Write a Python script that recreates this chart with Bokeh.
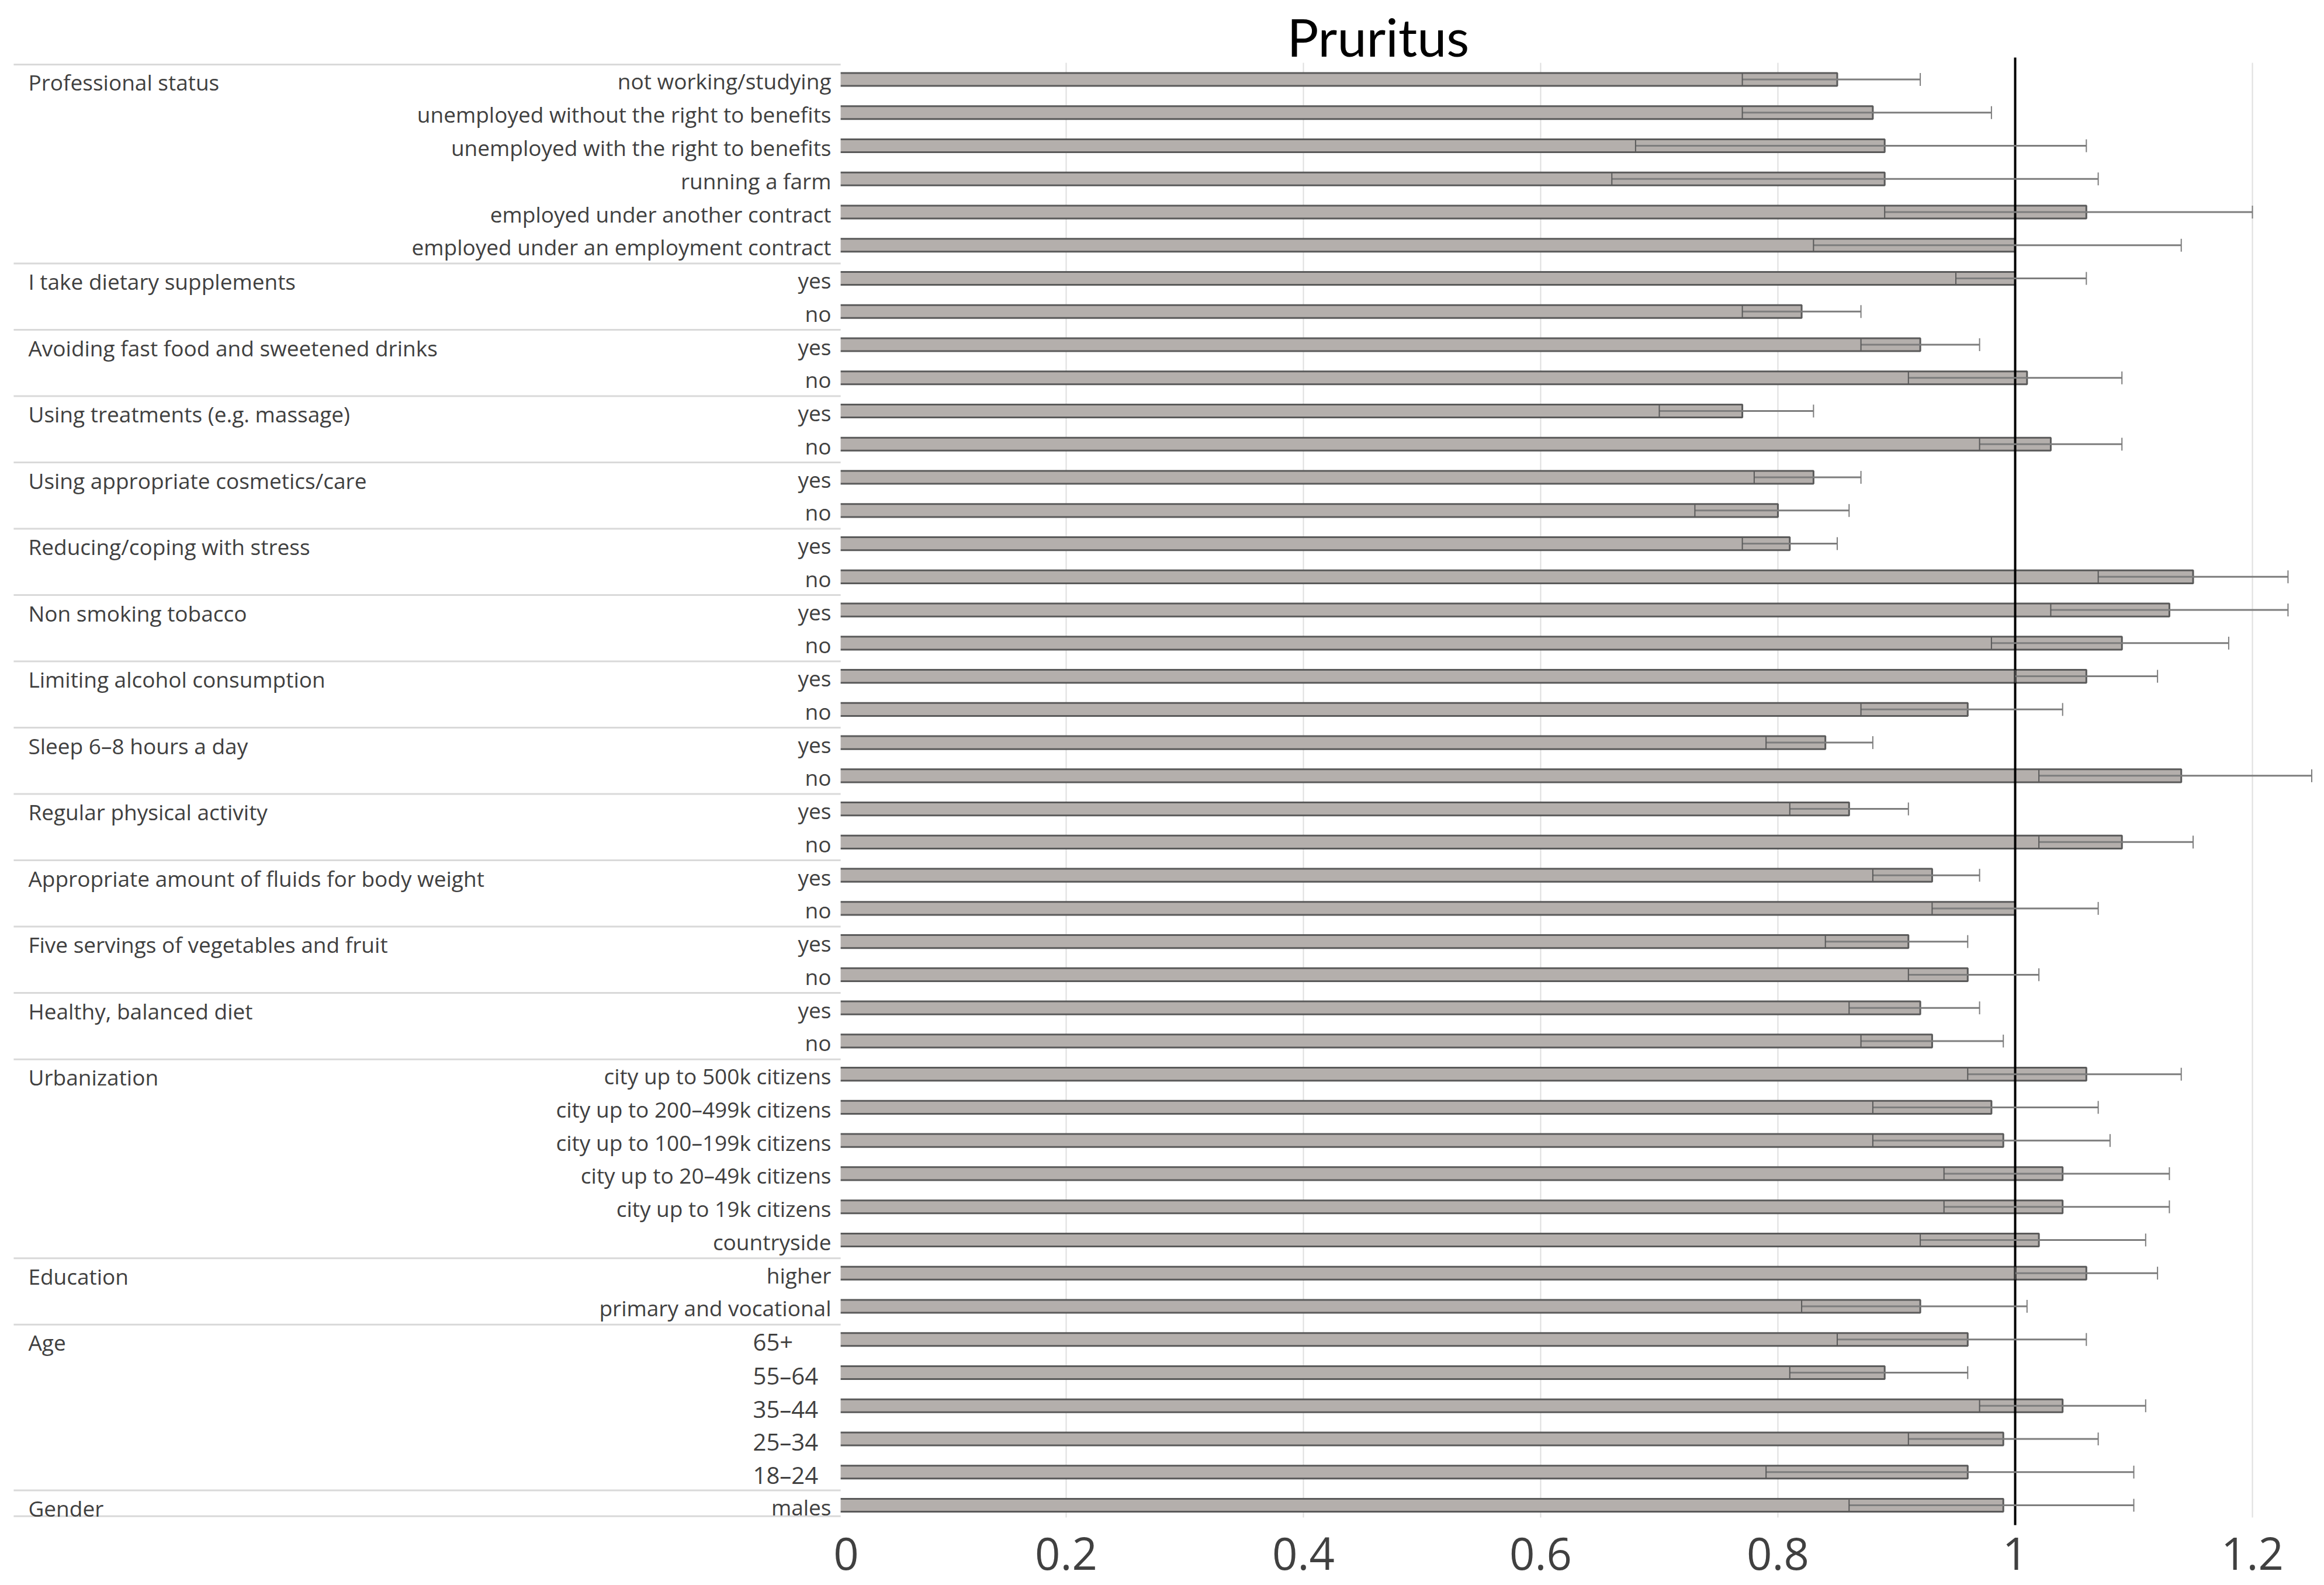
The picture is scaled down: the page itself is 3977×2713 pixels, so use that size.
from bokeh.plotting import figure
from bokeh.models import ColumnDataSource, Range1d, FixedTicker, Whisker, TeeHead
from bokeh.core.properties import value
from bokeh.embed import file_html
from bokeh.resources import INLINE

# ---------------- data ----------------
title_text = "Pruritus"

groups = [
    "Professional status",
    "I take dietary supplements",
    "Avoiding fast food and sweetened drinks",
    "Using treatments (e.g. massage)",
    "Using appropriate cosmetics/care",
    "Reducing/coping with stress",
    "Non smoking tobacco",
    "Limiting alcohol consumption",
    "Sleep 6\u20138 hours a day",
    "Regular physical activity",
    "Appropriate amount of fluids for body weight",
    "Five servings of vegetables and fruit",
    "Healthy, balanced diet",
    "Urbanization",
    "Education",
    "Age",
    "Gender",
]
group_sizes = [6, 2, 2, 2, 2, 2, 2, 2, 2, 2, 2, 2, 2, 6, 2, 5, 1]

categories = [
    "not working/studying",
    "unemployed without the right to benefits",
    "unemployed with the right to benefits",
    "running a farm",
    "employed under another contract",
    "employed under an employment contract",
    "yes", "no",
    "yes", "no",
    "yes", "no",
    "yes", "no",
    "yes", "no",
    "yes", "no",
    "yes", "no",
    "yes", "no",
    "yes", "no",
    "yes", "no",
    "yes", "no",
    "yes", "no",
    "city up to 500k citizens",
    "city up to 200\u2013499k citizens",
    "city up to 100\u2013199k citizens",
    "city up to 20\u201349k citizens",
    "city up to 19k citizens",
    "countryside",
    "higher",
    "primary and vocational",
    "65+",
    "55\u201364",
    "35\u201344",
    "25\u201334",
    "18\u201324",
    "males",
]

odds_ratio = [0.85, 0.88, 0.89, 0.89, 1.06, 1.00,
              1.00, 0.82,
              0.92, 1.01,
              0.77, 1.03,
              0.83, 0.80,
              0.81, 1.15,
              1.13, 1.09,
              1.06, 0.96,
              0.84, 1.14,
              0.86, 1.09,
              0.93, 1.00,
              0.91, 0.96,
              0.92, 0.93,
              1.06, 0.98, 0.99, 1.04, 1.04, 1.02,
              1.06, 0.92,
              0.96, 0.89, 1.04, 0.99, 0.96,
              0.99]

ci_lower = [0.77, 0.77, 0.68, 0.66, 0.89, 0.83,
            0.95, 0.77,
            0.87, 0.91,
            0.70, 0.97,
            0.78, 0.73,
            0.77, 1.07,
            1.03, 0.98,
            1.00, 0.87,
            0.79, 1.02,
            0.81, 1.02,
            0.88, 0.93,
            0.84, 0.91,
            0.86, 0.87,
            0.96, 0.88, 0.88, 0.94, 0.94, 0.92,
            1.00, 0.82,
            0.85, 0.81, 0.97, 0.91, 0.79,
            0.86]

ci_upper = [0.92, 0.98, 1.06, 1.07, 1.20, 1.14,
            1.06, 0.87,
            0.97, 1.09,
            0.83, 1.09,
            0.87, 0.86,
            0.85, 1.23,
            1.23, 1.18,
            1.12, 1.04,
            0.88, 1.25,
            0.91, 1.15,
            0.97, 1.07,
            0.96, 1.02,
            0.97, 0.99,
            1.14, 1.07, 1.08, 1.13, 1.13, 1.11,
            1.12, 1.01,
            1.06, 0.96, 1.11, 1.07, 1.10,
            1.10]

tick_values = [0, 0.2, 0.4, 0.6, 0.8, 1.0, 1.2]
tick_labels = ["0", "0.2", "0.4", "0.6", "0.8", "1", "1.2"]
reference_value = 1.0

# ---------------- layout / style ----------------
FONT = "Open Sans"
TEXT_COLOR = "#404040"
BAR_FILL = "#b4afac"
BAR_LINE = "#5a5a5a"
SEP_COLOR = "#d9d9d9"
GRID_COLOR = "#dedede"

W, H = 3975, 2711
BOTTOM = 110

n = len(categories)
rows = list(range(n))

group_starts = []
acc = 0
for s in group_sizes:
    group_starts.append(acc)
    acc += s
group_of_row = []
for gi, s in enumerate(group_sizes):
    group_of_row += [groups[gi]] * s

# horizontal placement (data units) of the label table and title
X_START, X_END = -0.6985, 1.2596
group_label_x = -0.6749
sep_x0, sep_x1 = -0.6872, 0.0099
table_right = 0.0099
age_label_x = -0.0640
title_x, title_y = 0.463, -1.30

Y_BOTTOM, Y_TOP = 43.37, -2.387
grid_top, grid_bottom = -0.50, 43.6
ref_top = -0.66
bar_h = 0.39

p = figure(
    width=W, height=H,
    x_range=Range1d(X_START, X_END),
    y_range=Range1d(Y_BOTTOM, Y_TOP),
    output_backend="svg", toolbar_location=None,
    y_axis_location=None,
    min_border_left=0, min_border_right=0, min_border_top=0,
    min_border_bottom=BOTTOM,
    background_fill_color="white", border_fill_color="white",
)
p.outline_line_color = None
p.xgrid.visible = False
p.ygrid.visible = False

# vertical grid lines (ticks other than 0)
grid_ticks = [t for t in tick_values if t != 0]
p.segment(x0=grid_ticks, x1=grid_ticks,
          y0=[grid_top] * len(grid_ticks), y1=[grid_bottom] * len(grid_ticks),
          line_color=GRID_COLOR, line_width=2)

src = ColumnDataSource(dict(y=rows, right=odds_ratio, lower=ci_lower, upper=ci_upper))
p.hbar(y="y", left=0, right="right", height=bar_h, source=src,
       fill_color=BAR_FILL, line_color=BAR_LINE, line_width=3)

whisk = Whisker(source=src, base="y", lower="lower", upper="upper", dimension="width",
                line_color="#7d7d7d", line_width=3, level="overlay",
                lower_head=TeeHead(size=22, line_color="#5a5a5a", line_width=2),
                upper_head=TeeHead(size=22, line_color="#7d7d7d", line_width=2))
p.add_layout(whisk)

# reference line at OR = 1
p.segment(x0=[reference_value], x1=[reference_value], y0=[ref_top], y1=[grid_bottom],
          line_color="black", line_width=4, level="overlay")

# label table panel (white background over the bar starts, as in the original)
p.quad(left=[X_START], right=[table_right], bottom=[Y_BOTTOM], top=[Y_TOP],
       fill_color="white", line_color=None, level="overlay")

# group separators
sep_y = [s - 0.45 for s in group_starts] + [n - 1 + 0.33]
p.segment(x0=[sep_x0] * len(sep_y), x1=[sep_x1] * len(sep_y), y0=sep_y, y1=sep_y,
          line_color=SEP_COLOR, line_width=3, level="overlay")

# group labels
p.text(x=[group_label_x] * len(groups), y=group_starts, text=groups,
       text_align="left", text_baseline="middle", y_offset=5, level="overlay",
       text_font=value(FONT), text_font_size="37px", text_color=TEXT_COLOR)

# sub-category labels
main_idx = [i for i in rows if group_of_row[i] != "Age"]
age_idx = [i for i in rows if group_of_row[i] == "Age"]
p.text(x=[0] * len(main_idx), y=[rows[i] for i in main_idx],
       text=[categories[i] for i in main_idx],
       text_align="right", text_baseline="middle", x_offset=4, y_offset=3,
       level="overlay",
       text_font=value(FONT), text_font_size="37px", text_color=TEXT_COLOR)
p.text(x=[age_label_x] * len(age_idx), y=[rows[i] for i in age_idx],
       text=[categories[i] for i in age_idx],
       text_align="left", text_baseline="middle", y_offset=5, level="overlay",
       text_font=value(FONT), text_font_size="40px", text_color=TEXT_COLOR)

# title
p.text(x=[title_x], y=[title_y], text=[title_text], text_align="center",
       text_baseline="middle", text_font=value("Lato"), text_font_size="90px",
       text_color="black")

# x axis
label_map = {t: l for t, l in zip(tick_values, tick_labels)}
label_map[0] = "\u00a0\u00a0\u00a0" + label_map[0]
ax = p.xaxis[0]
ax.ticker = FixedTicker(ticks=tick_values)
ax.major_label_overrides = label_map
ax.axis_line_color = None
ax.major_tick_line_color = None
ax.minor_tick_line_color = None
ax.major_label_standoff = 2
ax.major_label_text_font = FONT
ax.major_label_text_font_size = "76px"
ax.major_label_text_color = TEXT_COLOR

open("out.html", "w").write(file_html(p, INLINE))
